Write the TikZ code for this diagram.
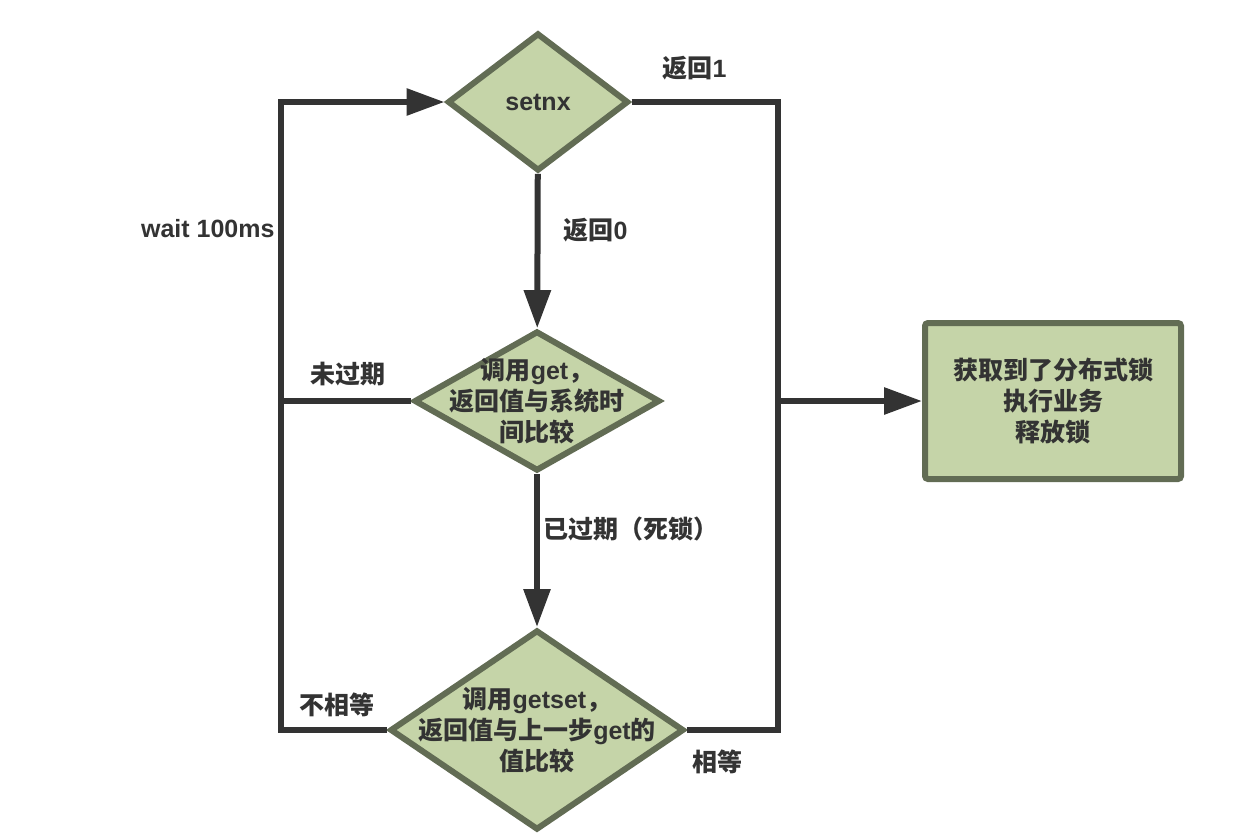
\documentclass[tikz,border=0pt]{standalone}
\usepackage{fontspec}
\setmainfont{Liberation Sans}
\newfontfamily\zh{Noto Sans CJK SC}
\usetikzlibrary{shapes.geometric,arrows.meta,positioning}
\definecolor{boxfill}{HTML}{C5D4A8}
\definecolor{boxline}{HTML}{626C54}
\definecolor{flowline}{HTML}{333333}

\begin{document}
\begin{tikzpicture}[x=1pt,y=-1pt,>={Triangle[length=38pt,width=26pt]},
   every node/.style={font=\fontsize{25}{31}\selectfont\bfseries,text=flowline,align=center},
   dia/.style={diamond,draw=boxline,fill=boxfill,line width=6pt,inner sep=0pt},
   flow/.style={draw=flowline,line width=6pt}]
  \useasboundingbox (0,0) rectangle (1260,836);
  % decisions and result
  \node[dia,minimum width=181pt,minimum height=138pt] (sx) at (538,102) {};
  \node[dia,minimum width=246pt,minimum height=140pt] (gt) at (537,401) {};
  \node[dia,minimum width=294pt,minimum height=200pt] (gs) at (537,730) {};
  \node[draw=boxline,fill=boxfill,line width=6pt,rounded corners=3pt,
        minimum width=256pt,minimum height=156pt] (ok) at (1053,401)
        {{\zh 获取到了分布式锁}\\{\zh 执行业务}\\{\zh 释放锁}};
  \node at (sx) {setnx};
  \node at (gt) {{\zh 调用}get{\zh ，}\\{\zh 返回值与系统时}\\{\zh 间比较}};
  \node at (gs) {{\zh 调用}getset{\zh ，}\\{\zh 返回值与上一步}get{\zh 的}\\{\zh 值比较}};
  % corners of the loops
  \coordinate (lt) at (281,102);
  \coordinate (lm) at (281,401);
  \coordinate (lb) at (281,730);
  \coordinate (rt) at (778,102);
  \coordinate (rm) at (778,401);
  \coordinate (rb) at (778,730);
  \draw[flow,->] (sx) -- (gt);
  \draw[flow,->] (gt) -- (gs);
  \draw[flow,->] (gs.west) -- (lb) -- (lt) -- (sx.west);
  \draw[flow] (gt.west) -- (lm);
  \draw[flow] (sx.east) -- (rt) -- (rb) -- (gs.east);
  \draw[flow,->] (rm) -- (ok.west);
  % labels
  \node[anchor=west] (r1) at (659,68) {{\zh 返回}1};
  \node[anchor=west] (r0) at (560,230) {{\zh 返回}0};
  \node[anchor=east] (wt) at (278,229) {wait 100ms};
  \node[anchor=west] (wg) at (307,374) {\zh 未过期};
  \node[anchor=west] (dl) at (540,529) {\zh 已过期（死锁）};
  \node[anchor=west] (ne) at (296,705) {\zh 不相等};
  \node[anchor=west] (eq) at (689,762) {\zh 相等};
\end{tikzpicture}
\end{document}
